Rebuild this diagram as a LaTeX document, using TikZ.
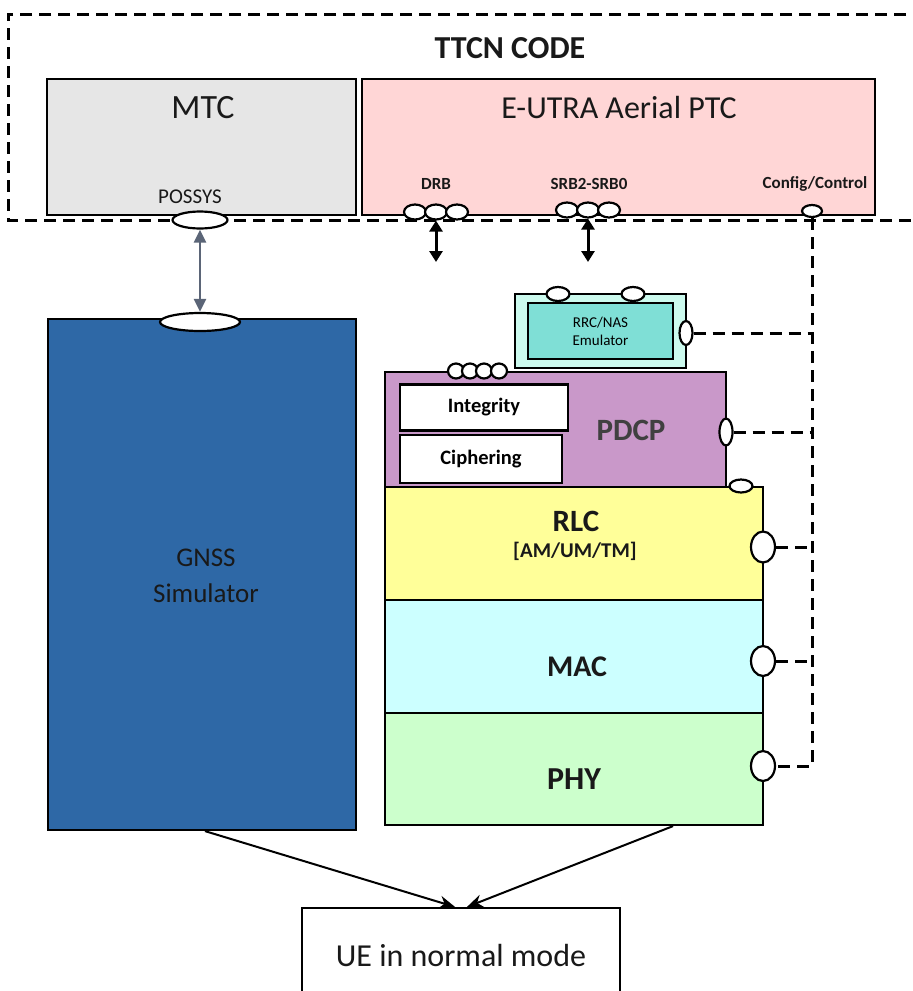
\documentclass[tikz,border=0pt]{standalone}
\usepackage{fontspec}
\setmainfont{Carlito}
\usetikzlibrary{shapes.geometric,arrows.meta}
\definecolor{mtcgray}{HTML}{E6E6E6}
\definecolor{ptcpink}{HTML}{FFD6D6}
\definecolor{gnssblue}{HTML}{2E68A6}
\definecolor{rrcmint}{HTML}{CCFAEE}
\definecolor{rrcteal}{HTML}{7FDFD6}
\definecolor{pdcppurple}{HTML}{C998C9}
\definecolor{rlcyellow}{HTML}{FFFF99}
\definecolor{maccyan}{HTML}{CCFFFF}
\definecolor{phygreen}{HTML}{CCFFCC}
\definecolor{possgrey}{HTML}{5B6577}
\tikzset{box/.style = {draw, line width=2.2pt, rectangle, inner sep=0pt}}
\tikzset{port/.style = {draw, ellipse, fill=white, line width=2.2pt, inner sep=0pt}}
\tikzset{bus/.style = {line width=3pt, dash pattern=on 12pt off 7pt}}
\tikzset{dbl/.style = {line width=3pt, {Triangle[width=13pt,length=11pt]}-{Triangle[width=13pt,length=11pt]}}}
\tikzset{txt/.style = {inner sep=0pt, text=black!90}}

\begin{document}
\begin{tikzpicture}[x=1pt, y=-1pt]
\clip (0,0) rectangle (913,991);
\useasboundingbox (0,0) rectangle (913,991);

\draw[bus] (925,14) -- (8,14) -- (8,220) -- (925,220);

\node[box, fill=mtcgray, minimum width=309pt, minimum height=136pt] (mtc) at (201.5,147) {};
\node[box, fill=ptcpink, minimum width=513pt, minimum height=136pt] (ptc) at (618.5,147) {};
\node[box, fill=gnssblue, minimum width=308pt, minimum height=511pt] (gnss) at (202,574.5) {};
\node[box, fill=rrcmint, minimum width=171pt, minimum height=74pt] (rrc) at (600.5,331) {};
\node[box, fill=rrcteal, minimum width=145pt, minimum height=56pt, align=center, font=\fontsize{15}{18}\selectfont] (rrcin) at (600.5,331) {RRC/NAS\\Emulator};
\node[box, fill=pdcppurple, minimum width=341pt, minimum height=115pt] (pdcp) at (555.5,429.5) {};
\node[box, fill=white, minimum width=168pt, minimum height=46pt, font=\fontsize{20.5}{24}\selectfont\bfseries] (integ) at (484,407.5) {Integrity};
\node[box, fill=white, minimum width=162pt, minimum height=48pt, font=\fontsize{20.5}{24}\selectfont\bfseries] (ciph) at (481,459) {Ciphering};
\node[box, fill=rlcyellow, minimum width=378pt, minimum height=113pt] (rlc) at (574,543.5) {};
\node[box, fill=maccyan, minimum width=378pt, minimum height=113pt] (mac) at (574,656.5) {};
\node[box, fill=phygreen, minimum width=378pt, minimum height=112pt] (phy) at (574,769) {};
\node[box, fill=white, minimum width=318pt, minimum height=104pt] (ue) at (461,960) {};

\node[txt, font=\fontsize{32}{36}\selectfont\bfseries] (ttcn) at (510,48) {TTCN CODE};
\node[txt, font=\fontsize{34}{38}\selectfont] (mtclbl) at (203,108) {MTC};
\node[txt, font=\fontsize{32}{36}\selectfont] (ptclbl) at (619,108) {E-UTRA Aerial PTC};
\node[txt, font=\fontsize{17}{20}\selectfont\bfseries] (drblbl) at (436,184) {DRB};
\node[txt, font=\fontsize{17}{20}\selectfont\bfseries] (srblbl) at (589,184) {SRB2-SRB0};
\node[txt, font=\fontsize{17}{20}\selectfont\bfseries] (cfglbl) at (815,184) {Config/Control};
\node[txt, font=\fontsize{21}{24}\selectfont] (posslbl) at (190,197) {POSSYS};
\node[txt, align=center, font=\fontsize{27}{36}\selectfont] (gnsslbl) at (206,576) {GNSS\\Simulator};
\node[txt, text=black!75, font=\fontsize{31}{34}\selectfont\bfseries] (pdcplbl) at (631,430) {PDCP};
\node[txt, font=\fontsize{31}{36}\selectfont\bfseries] (rlclbl) at (576,521) {RLC};
\node[txt, font=\fontsize{21}{24}\selectfont\bfseries] (modelbl) at (575,551) {[AM/UM/TM]};
\node[txt, font=\fontsize{30}{34}\selectfont\bfseries] (maclbl) at (577,667) {MAC};
\node[txt, font=\fontsize{32}{36}\selectfont\bfseries] (phylbl) at (574,779) {PHY};
\node[txt, font=\fontsize{32}{36}\selectfont] (uelbl) at (461,955) {UE in normal mode};

\node[port, minimum width=55pt, minimum height=17pt] (poss) at (200,220) {};
\node[port, minimum width=80pt, minimum height=18pt] (gnssport) at (200,322) {};
\node[port, minimum width=22pt, minimum height=15pt] (drb1) at (415,212) {};
\node[port, minimum width=22pt, minimum height=15pt] (drb2) at (436,212) {};
\node[port, minimum width=22pt, minimum height=15pt] (drb3) at (457,212) {};
\node[port, minimum width=22pt, minimum height=15pt] (srb1) at (567,210) {};
\node[port, minimum width=22pt, minimum height=15pt] (srb2) at (588,210) {};
\node[port, minimum width=22pt, minimum height=15pt] (srb3) at (609,210) {};
\node[port, minimum width=20pt, minimum height=12pt] (cfg) at (812,211) {};
\node[port, minimum width=23pt, minimum height=14pt] (rrctop1) at (558,294) {};
\node[port, minimum width=23pt, minimum height=14pt] (rrctop2) at (633,294) {};
\node[port, minimum width=13pt, minimum height=24pt] (rrcport) at (686,333) {};
\node[port, minimum width=16pt, minimum height=15pt] (pdcptop1) at (456,371) {};
\node[port, minimum width=16pt, minimum height=15pt] (pdcptop2) at (470,371) {};
\node[port, minimum width=16pt, minimum height=15pt] (pdcptop3) at (484,371) {};
\node[port, minimum width=16pt, minimum height=15pt] (pdcptop4) at (499,371) {};
\node[port, minimum width=13pt, minimum height=27pt] (pdcpport) at (726,432) {};
\node[port, minimum width=23pt, minimum height=13pt] (rlctop) at (741,486) {};
\node[port, minimum width=24pt, minimum height=31pt] (rlcport) at (763,547) {};
\node[port, minimum width=24pt, minimum height=30pt] (macport) at (763,661) {};
\node[port, minimum width=24pt, minimum height=30pt] (phyport) at (763,766) {};

\coordinate (drbend) at (436,262);
\coordinate (srbend) at (588,262);

\draw[dbl] (drb2.south) -- (drbend);
\draw[dbl] (srb2.south) -- (srbend);
\draw[line width=2.5pt, possgrey, {Triangle[width=12pt,length=13pt]}-{Triangle[width=12pt,length=13pt]}] (poss.south) -- (gnssport.north);

\draw[bus] (cfg.south) |- (phyport.east);
\draw[bus] (rrcport.east) -- (rrcport.east -| cfg.south);
\draw[bus] (pdcpport.east) -- (pdcpport.east -| cfg.south);
\draw[bus] (rlcport.east) -- (rlcport.east -| cfg.south);
\draw[bus] (macport.east) -- (macport.east -| cfg.south);

\path [-{Stealth[length=16pt,width=13pt]}, line width=2pt] ([xshift=3pt]gnss.south) edge ([xshift=-6pt]ue.north);
\path [-{Stealth[length=16pt,width=13pt]}, line width=2pt] ([xshift=99pt]phy.south) edge ([xshift=6pt]ue.north);
\end{tikzpicture}
\end{document}
